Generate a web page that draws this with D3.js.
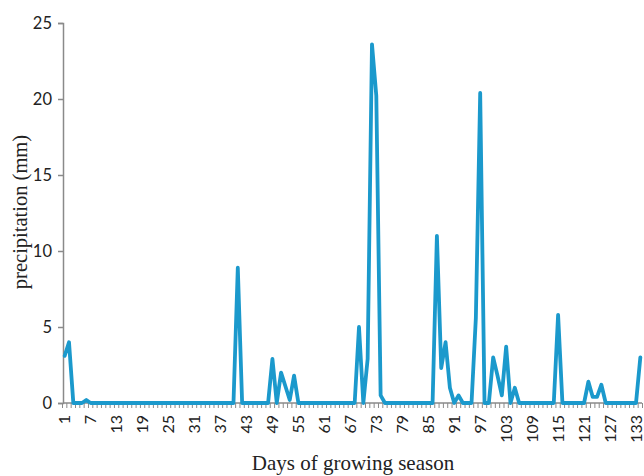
<!DOCTYPE html>
<html>
<head>
<meta charset="utf-8">
<script src="https://cdn.jsdelivr.net/npm/d3@7"></script>
<style>
  html, body { margin: 0; padding: 0; background: #fff; }
  svg { display: block; }
</style>
</head>
<body>
<svg id="chart" width="644" height="476"></svg>
<script>
// Daily precipitation (mm), days 1..134 of growing season
const precipitation = [
  3.1, 4.0, 0, 0, 0, 0.2, 0, 0, 0, 0,
  0, 0, 0, 0, 0, 0, 0, 0, 0, 0,
  0, 0, 0, 0, 0, 0, 0, 0, 0, 0,
  0, 0, 0, 0, 0, 0, 0, 0, 0, 0,
  8.9, 0, 0, 0, 0, 0, 0, 0, 2.9, 0,
  2.0, 1.1, 0.2, 1.8, 0, 0, 0, 0, 0, 0,
  0, 0, 0, 0, 0, 0, 0, 0, 5.0, 0,
  2.9, 23.6, 20.2, 0.5, 0, 0, 0, 0, 0, 0,
  0, 0, 0, 0, 0, 0, 11.0, 2.3, 4.0, 1.0,
  0, 0.5, 0, 0, 0, 5.6, 20.4, 0, 0, 3.0,
  1.8, 0.5, 3.7, 0, 1.0, 0, 0, 0, 0, 0,
  0, 0, 0, 0, 5.8, 0, 0, 0, 0, 0,
  0, 1.4, 0.4, 0.4, 1.2, 0, 0, 0, 0, 0,
  0, 0, 0, 3.0
];
const days = precipitation.map((v, i) => i + 1);
const xTickLabels = ["1","7","13","19","25","31","37","43","49","55","61","67","73","79","85","91","97","103","109","115","121","127","133"];
const yTickValues = [0, 5, 10, 15, 20, 25];
const xTitle = "Days of growing season";
const yTitle = "precipitation (mm)";

(function () {
const svg = d3.select("#chart");
const axisColor = "#8a8a8a";
const mLeft = 63, mRight = 642, mTop = 23, mBottom = 403;

const x = d3.scalePoint().domain(days).range([62.5, 642.5]).padding(0.5);
const y = d3.scaleLinear().domain([0, 25]).range([mBottom, mTop]);

// Y axis
const yAxis = d3.axisLeft(y).tickValues(yTickValues).tickSize(5).tickPadding(6).tickFormat(d3.format("d"));
const gy = svg.append("g").attr("transform", `translate(${mLeft},0)`).call(yAxis);
gy.select(".domain").attr("stroke", axisColor).attr("stroke-width", 1.5);
gy.selectAll(".tick line").attr("stroke", axisColor).attr("stroke-width", 1.5);
gy.selectAll(".tick text")
  .attr("font-family", "Lato, 'Open Sans', sans-serif")
  .attr("font-size", 16.5)
  .attr("fill", "#222");

// X axis baseline
const step = x.step();
svg.append("line")
  .attr("x1", mLeft).attr("x2", mRight)
  .attr("y1", mBottom).attr("y2", mBottom)
  .attr("stroke", axisColor).attr("stroke-width", 1.5);

// X tick marks at category boundaries
const boundaries = days.map(d => x(d) - step / 2);
boundaries.push(x(days[days.length - 1]) + step / 2);
svg.append("g").selectAll("line")
  .data(boundaries)
  .join("line")
  .attr("x1", d => d).attr("x2", d => d)
  .attr("y1", mBottom).attr("y2", mBottom + 5)
  .attr("stroke", axisColor).attr("stroke-width", 1);

// X tick labels (rotated)
svg.append("g").selectAll("text")
  .data(xTickLabels)
  .join("text")
  .attr("transform", d => `translate(${x(+d)},${mBottom + 12}) rotate(-90)`)
  .attr("text-anchor", "end")
  .attr("dy", "0.35em")
  .attr("font-family", "Lato, 'Open Sans', sans-serif")
  .attr("font-size", 16)
  .attr("fill", "#222")
  .text(d => d);

// Line
const line = d3.line()
  .x((d, i) => x(days[i]))
  .y(d => y(d));
svg.append("path")
  .datum(precipitation)
  .attr("d", line)
  .attr("fill", "none")
  .attr("stroke", "#1b99cc")
  .attr("stroke-width", 3.8)
  .attr("stroke-linejoin", "round")
  .attr("stroke-linecap", "round");

// Axis titles
svg.append("text")
  .attr("x", 353).attr("y", 470)
  .attr("text-anchor", "middle")
  .attr("font-family", "'Liberation Serif', 'Times New Roman', serif")
  .attr("font-size", 21)
  .attr("fill", "#222")
  .text(xTitle);

svg.append("text")
  .attr("transform", "translate(27,212) rotate(-90)")
  .attr("text-anchor", "middle")
  .attr("font-family", "'Liberation Serif', 'Times New Roman', serif")
  .attr("font-size", 20.5)
  .attr("fill", "#222")
  .text(yTitle);
})();
</script>
</body>
</html>
